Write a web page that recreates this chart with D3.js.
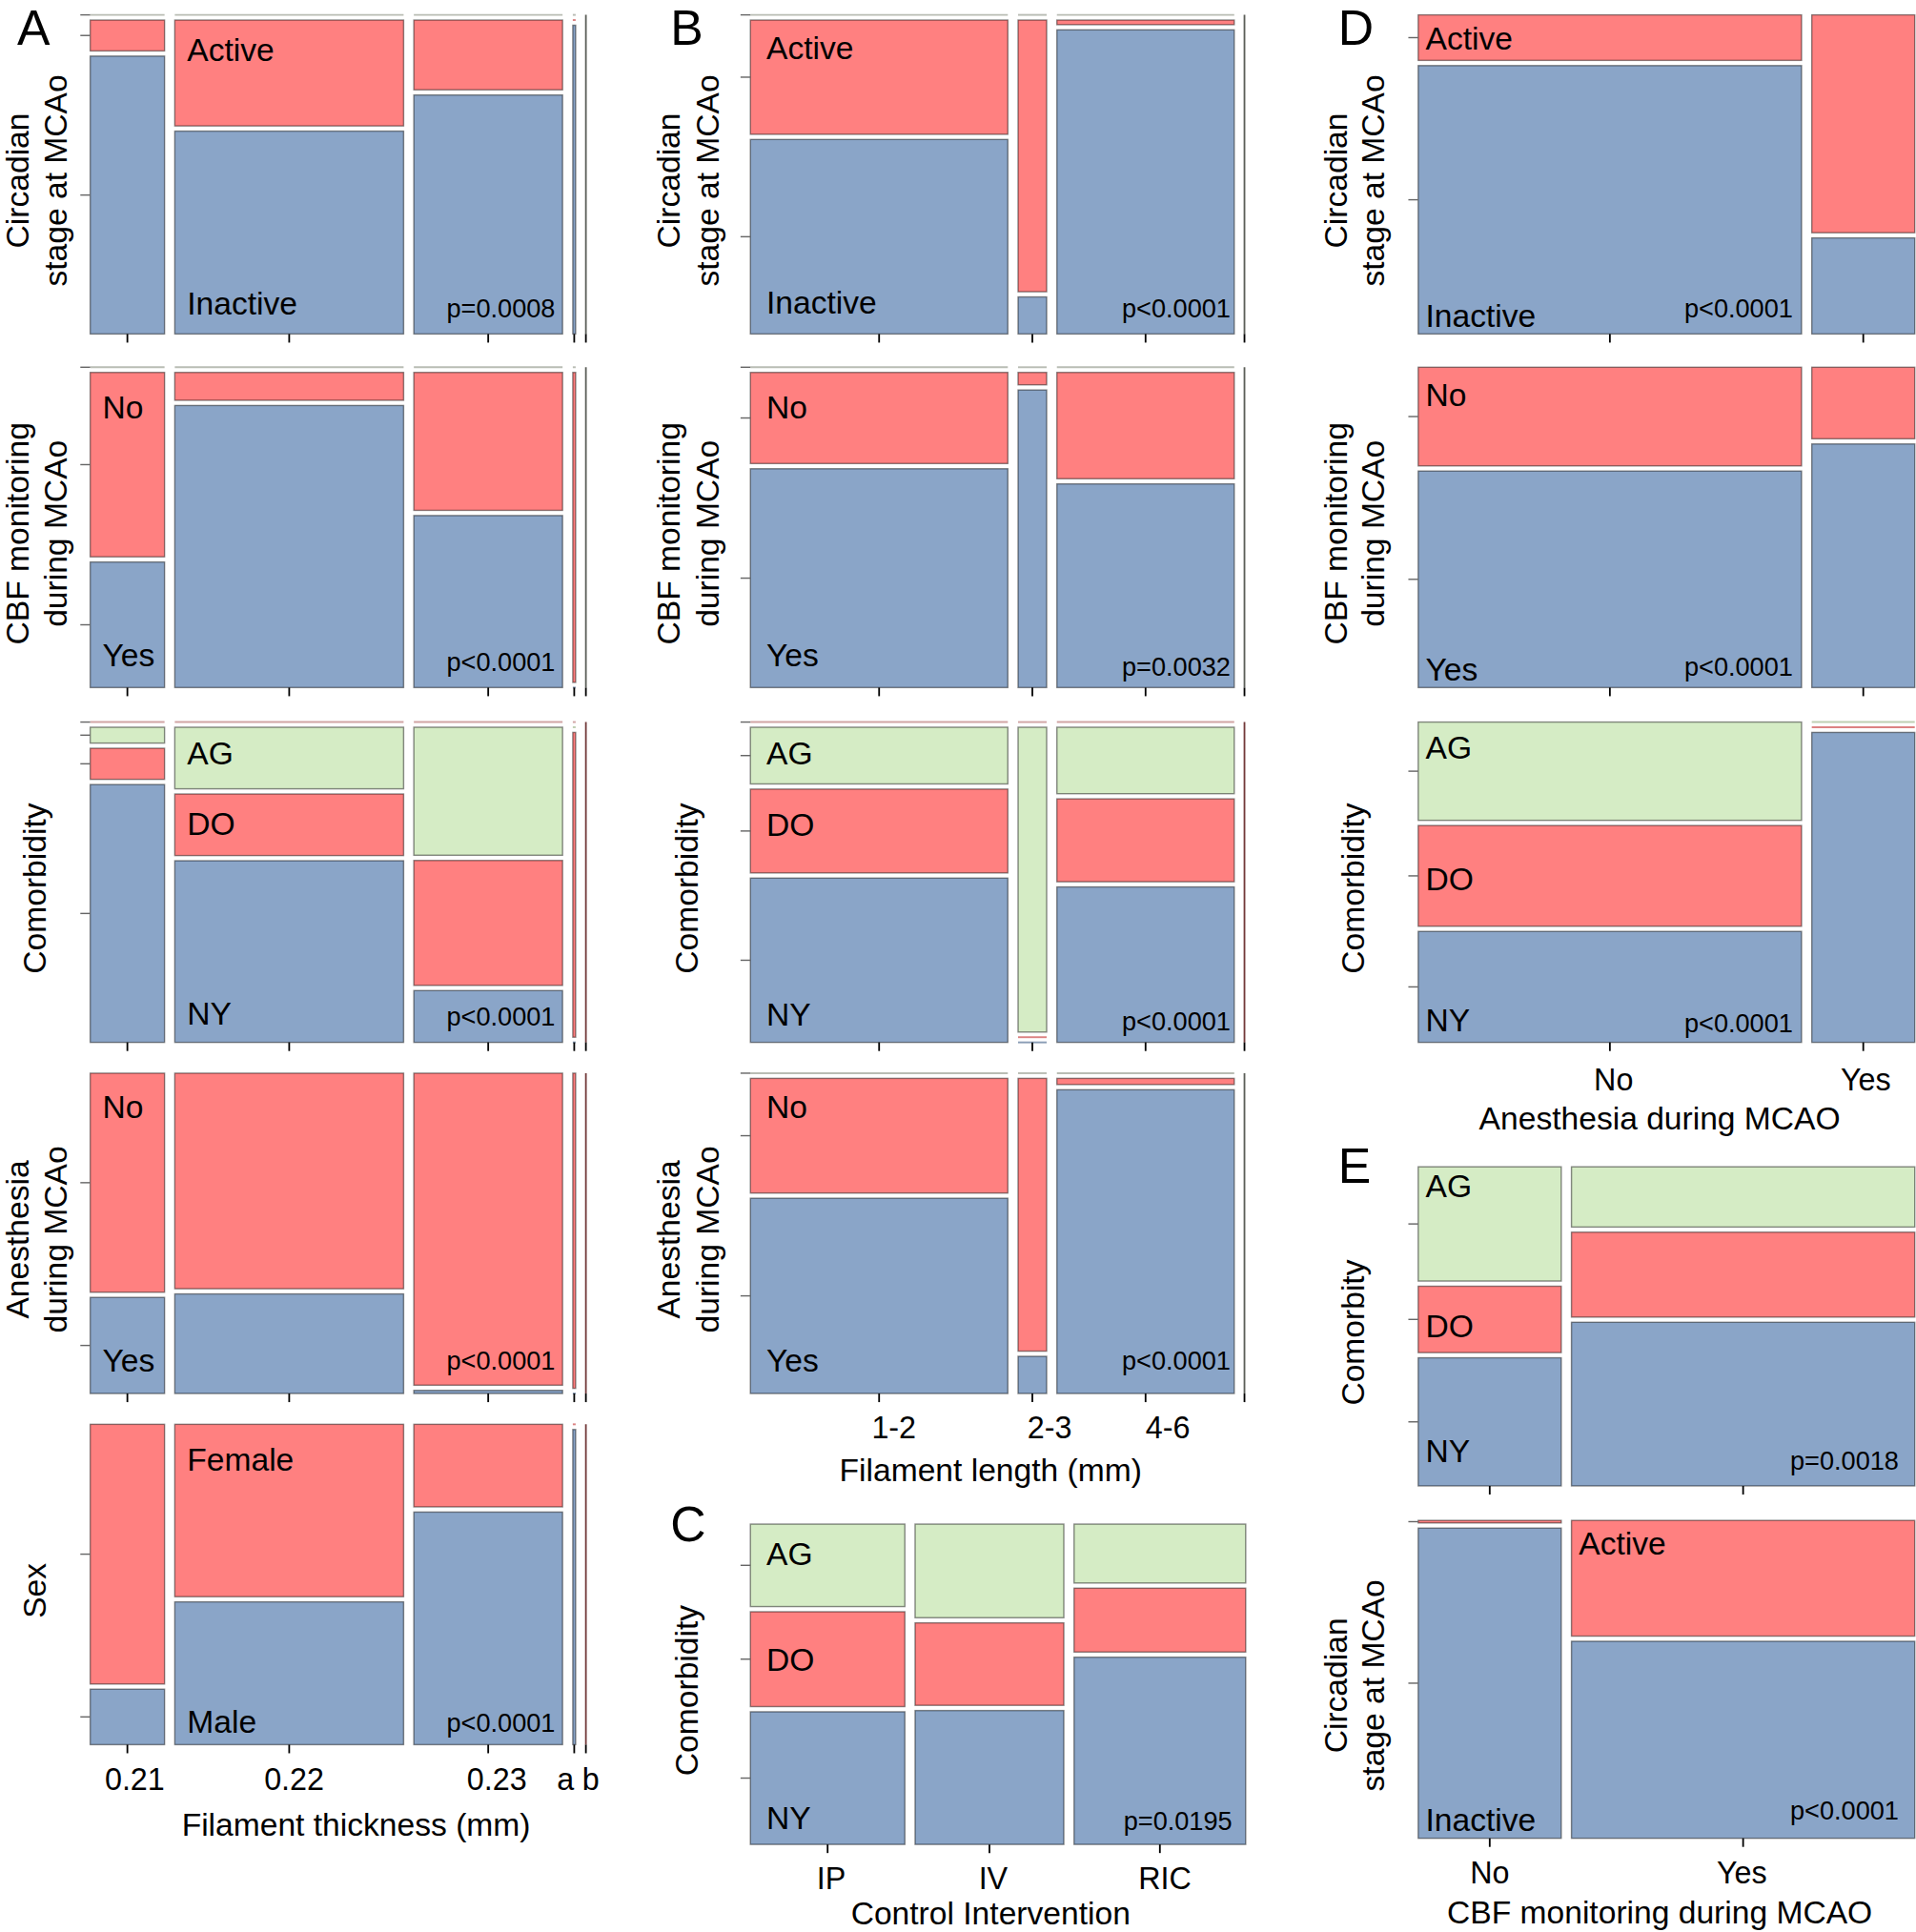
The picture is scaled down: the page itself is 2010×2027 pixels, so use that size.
<!DOCTYPE html>
<html>
<head>
<meta charset="utf-8">
<script src="https://cdn.jsdelivr.net/npm/d3@7"></script>
<style>
body { margin: 0; background: #fff; }
text { font-family: "Liberation Sans", Arial, sans-serif; fill: #000; }
</style>
</head>
<body>
<div id="chart"></div>
<script>
// x categories
const thickness = ["0.21", "0.22", "0.23", "a", "b"];
const lengthCat = ["1-2", "2-3", "4-6", ""];
const control = ["IP", "IV", "RIC"];
const noYes = ["No", "Yes"];

// animals per x category (column widths)
const thicknessN = [26, 80, 52, 1, 0];
const lengthN = [90, 10, 62, 0];
const controlN = [54, 52, 60];
const anesthesiaN = [134, 36];
const cbfN = [50, 120];

// level sets, top to bottom ("na" = empty level drawn as a line)
const circLvNA = ["na", "Active", "Inactive"];
const cbfLvNA = ["na", "No", "Yes"];
const comorbLvNA = ["naC", "AG", "DO", "NY"];
const circLv = ["Active", "Inactive"];
const yesNoLv = ["No", "Yes"];
const comorbLv = ["AG", "DO", "NY"];
const sexLv = ["Female", "Male"];

// % of each column in each level
const circByThickness = [[0, 10, 90], [0, 34.3, 65.7], [0, 22.6, 77.4], [0, 0, 100], [100, 0, 0]];
const cbfByThickness = [[0, 59.5, 40.5], [0, 9, 91], [0, 44.5, 55.5], [0, 100, 0], [100, 0, 0]];
const comorbByThickness = [[0, 5.2, 10.2, 84.6], [0, 20.2, 20.2, 59.6], [0, 42, 41, 17], [0, 0, 100, 0], [0, 0, 100, 0]];
const anesByThickness = [[69.5, 30.5], [68.4, 31.6], [99, 1], [100, 0], [100, 0]];
const sexByThickness = [[82.4, 17.6], [54.7, 45.3], [26.2, 73.8], [0, 100], [100, 0]];

const circByLength = [[0, 37, 63], [0, 88, 12], [0, 1.5, 98.5], [100, 0, 0]];
const cbfByLength = [[0, 29.4, 70.6], [0, 4, 96], [0, 34.3, 65.7], [100, 0, 0]];
const comorbByLength = [[0, 18.6, 27.5, 53.9], [0, 100, 0, 0], [0, 21.8, 27.2, 51], [0, 0, 100, 0]];
const anesByLength = [[0, 37, 63], [0, 88, 12], [0, 2, 98], [100, 0, 0]];

const comorbByControl = [[26.6, 30.6, 42.8], [30.2, 26.6, 43.2], [19, 20.6, 60.4]];

const circByAnes = [[14.5, 85.5], [69.4, 30.6]];
const cbfByAnes = [[31.3, 68.7], [22.7, 77.3]];
const comorbByAnes = [[31.7, 32.5, 35.8], [0, 0, 100]];

const comorbByCbf = [[37, 21.5, 41.5], [19.5, 27.5, 53]];
const circByCbf = [[0.8, 99.2], [37, 63]];

const pValues = ["p=0.0008", "p<0.0001", "p<0.0001", "p<0.0001", "p<0.0001",
                 "p<0.0001", "p=0.0032", "p<0.0001", "p<0.0001",
                 "p=0.0195",
                 "p<0.0001", "p<0.0001", "p<0.0001",
                 "p=0.0018", "p<0.0001"];

// ---- styling / layout ----
const red = "#ff8080", blue = "#8aa5c8", green = "#d5ecc5";
const levelColor = {
  na: "#cdd3c6", naC: "#f0b0b0",
  Active: red, Inactive: blue, No: red, Yes: blue,
  AG: green, DO: red, NY: blue, Female: red, Male: blue
};
const colGap = 8.3, lvGap = 4.2;

const panels = {
  A: {x0: 73.2, x1: 475.5, labX: 10, pIn: 6, titleX: [14, 45, 28], letter: [14, 36],
      cats: thickness, tickDx: [6, 4, 7, -7, 4], tickY: 1453,
      axisTitle: "Filament thickness (mm)", axisX: 289, axisY: 1490},
  B: {x0: 609, x1: 1010, labX: 13, pIn: 3, titleX: [542, 574, 557], letter: [544, 36],
      cats: lengthCat, tickDx: [12, 14, 18, 0], tickY: 1167,
      axisTitle: "Filament length (mm)", axisX: 804, axisY: 1202},
  C: {x0: 609, x1: 1011, labX: 13, pIn: 11, titleX: [542, 574, 557], letter: [544, 1251],
      cats: control, tickDx: [3, 3, 4], tickY: 1533,
      axisTitle: "Control Intervention", axisX: 804, axisY: 1562},
  D: {x0: 1151, x1: 1554, labX: 6, pIn: 7, titleX: [1084, 1114, 1098], letter: [1086, 36],
      cats: noYes, tickDx: [3, 2], tickY: 885,
      axisTitle: "Anesthesia during MCAO", axisX: 1347, axisY: 917},
  E: {x0: 1151, x1: 1554, labX: 6, pIn: 13, titleX: [1084, 1114, 1098], letter: [1086, 960],
      cats: noYes, tickDx: [0, -1], tickY: 1529,
      axisTitle: "CBF monitoring during MCAO", axisX: 1347, axisY: 1561}
};

const bandsA = [[12, 271], [298, 558], [586, 846], [871, 1131], [1156, 1416]];

const rows = [
  {pn: "A", y: bandsA[0], n: thicknessN, lv: circLvNA, sh: circByThickness, lab: [null, [1, 24], [1, -25]], pc: 2, title: ["Circadian", "stage at MCAo"]},
  {pn: "A", y: bandsA[1], n: thicknessN, lv: cbfLvNA, sh: cbfByThickness, lab: [null, [0, 28], [0, -27]], pc: 2, title: ["CBF monitoring", "during MCAo"]},
  {pn: "A", y: bandsA[2], n: thicknessN, lv: comorbLvNA, sh: comorbByThickness, lab: [null, [1, 21], [1, 24], [1, -24]], pc: 2, title: ["Comorbidity"]},
  {pn: "A", y: bandsA[3], n: thicknessN, lv: yesNoLv, sh: anesByThickness, lab: [[0, 27], [0, -27]], pc: 2, pDy: -27, title: ["Anesthesia", "during MCAo"]},
  {pn: "A", y: bandsA[4], n: thicknessN, lv: sexLv, sh: sexByThickness, lab: [[1, 28], [1, -19]], pc: 2, pDy: -18, title: ["Sex"], axis: true},
  {pn: "B", y: bandsA[0], n: lengthN, lv: circLvNA, sh: circByLength, lab: [null, [0, 22], [0, -26]], pc: 2, title: ["Circadian", "stage at MCAo"]},
  {pn: "B", y: bandsA[1], n: lengthN, lv: cbfLvNA, sh: cbfByLength, lab: [null, [0, 28], [0, -27]], pc: 2, pDy: -17, title: ["CBF monitoring", "during MCAo"]},
  {pn: "B", y: bandsA[2], n: lengthN, lv: comorbLvNA, sh: comorbByLength, lab: [null, [0, 21], [0, 29], [0, -23]], pc: 2, pDy: -17, title: ["Comorbidity"]},
  {pn: "B", y: bandsA[3], n: lengthN, lv: cbfLvNA, sh: anesByLength, lab: [null, [0, 23], [0, -27]], pc: 2, pDy: -27, title: ["Anesthesia", "during MCAo"], axis: true},
  {pn: "C", y: [1237, 1497], n: controlN, lv: comorbLv, sh: comorbByControl, lab: [[0, 24], [0, 39], [0, -22]], pc: 2, pDy: -19, title: ["Comorbidity"], axis: true},
  {pn: "D", y: bandsA[0], n: anesthesiaN, lv: circLv, sh: circByAnes, lab: [[0, 19], [0, -15]], pc: 0, title: ["Circadian", "stage at MCAo"]},
  {pn: "D", y: bandsA[1], n: anesthesiaN, lv: yesNoLv, sh: cbfByAnes, lab: [[0, 22], [0, -15]], pc: 0, pDy: -17, title: ["CBF monitoring", "during MCAo"]},
  {pn: "D", y: bandsA[2], n: anesthesiaN, lv: comorbLv, sh: comorbByAnes, lab: [[0, 20], [0, 43], [0, -18]], pc: 0, pDy: -16, title: ["Comorbidity"], axis: true},
  {pn: "E", y: [947, 1206], n: cbfN, lv: comorbLv, sh: comorbByCbf, lab: [[0, 15], [0, 32], [0, -29]], pc: 1, title: ["Comorbity"]},
  {pn: "E", y: [1234, 1492], n: cbfN, lv: circLv, sh: circByCbf, lab: [[1, 18], [0, -15]], pc: 1, pDy: -23, title: ["Circadian", "stage at MCAo"], axis: true}
];

const svg = d3.select("#chart").append("svg")
  .attr("width", 2010)
  .attr("height", 2027)
  .attr("viewBox", "0 0 1555 1568");

function labelName(l) { return l.startsWith("na") ? "" : l; }

rows.forEach(function (r, ri) {
  const P = panels[r.pn];
  const y0 = r.y[0], y1 = r.y[1];
  const g = svg.append("g");

  // column scale
  const x = d3.scaleLinear().domain([0, d3.sum(r.n)])
    .range([0, (P.x1 - P.x0) - colGap * (r.n.length - 1)]);
  const cols = [];
  let cx = P.x0;
  r.n.forEach(function (c) { const w = x(c); cols.push({x: cx, w: w}); cx += w + colGap; });

  // level scale
  const y = d3.scaleLinear().domain([0, 100])
    .range([0, (y1 - y0) - lvGap * (r.lv.length - 1)]);

  const segs = [];
  cols.forEach(function (col, i) {
    let cy = y0;
    r.sh[i].forEach(function (s, j) {
      const h = y(s);
      segs.push({c: i, l: j, x: col.x, w: col.w, y: cy, h: h, s: s});
      cy += h + lvGap;
    });
  });

  // boxes
  g.selectAll("rect.cell")
    .data(segs.filter(d => d.s > 0 && d.w > 0))
    .enter().append("rect")
    .attr("x", d => d.x).attr("y", d => d.y)
    .attr("width", d => d.w).attr("height", d => d.h)
    .attr("fill", d => levelColor[r.lv[d.l]])
    .attr("stroke", "#000").attr("stroke-opacity", 0.45).attr("stroke-width", 1.1);

  // empty cells -> horizontal lines
  g.selectAll("line.zero")
    .data(segs.filter(d => d.s === 0 && d.w > 0))
    .enter().append("line")
    .attr("x1", d => d.x).attr("x2", d => d.x + d.w)
    .attr("y1", d => d.y).attr("y2", d => d.y)
    .attr("stroke", d => d3.interpolateRgb(levelColor[r.lv[d.l]], "#8a8a8a")(0.3))
    .attr("stroke-width", 1.5);

  // empty columns -> vertical line
  cols.forEach(function (col, i) {
    if (col.w > 0) return;
    const j = d3.maxIndex(r.sh[i]);
    g.append("line")
      .attr("x1", col.x).attr("x2", col.x)
      .attr("y1", y0).attr("y2", y1)
      .attr("stroke", d3.interpolateRgb(levelColor[r.lv[j]], "#000")(0.55))
      .attr("stroke-width", 1.4);
  });

  // y ticks at first column segments
  g.selectAll("line.yt")
    .data(segs.filter(d => d.c === 0))
    .enter().append("line")
    .attr("x1", P.x0 - 8).attr("x2", P.x0)
    .attr("y1", d => d.y + d.h / 2).attr("y2", d => d.y + d.h / 2)
    .attr("stroke", "#666").attr("stroke-width", 1.1);

  // x ticks
  g.selectAll("line.xt")
    .data(cols)
    .enter().append("line")
    .attr("x1", d => d.x + d.w / 2).attr("x2", d => d.x + d.w / 2)
    .attr("y1", y1).attr("y2", y1 + 7)
    .attr("stroke", "#000").attr("stroke-width", 1.4);

  // level labels
  r.lab.forEach(function (lb, j) {
    if (!lb) return;
    const s = segs.find(d => d.c === lb[0] && d.l === j);
    const cyy = lb[1] >= 0 ? s.y + lb[1] : s.y + s.h + lb[1];
    g.append("text")
      .attr("x", s.x + P.labX).attr("y", cyy).attr("dy", "0.36em")
      .attr("font-size", 26)
      .text(labelName(r.lv[j]));
  });

  // p value
  const pc = cols[r.pc];
  g.append("text")
    .attr("x", pc.x + pc.w - P.pIn)
    .attr("y", y1 + (r.pDy || -21)).attr("dy", "0.36em")
    .attr("text-anchor", "end").attr("font-size", 21)
    .text(pValues[ri]);

  // y title
  const ym = (y0 + y1) / 2 + 5;
  const tx = r.title.length === 2 ? [P.titleX[0], P.titleX[1]] : [P.titleX[2]];
  r.title.forEach(function (t, k) {
    g.append("text")
      .attr("transform", "translate(" + tx[k] + "," + ym + ") rotate(-90)")
      .attr("text-anchor", "middle").attr("dy", "0.36em")
      .attr("font-size", 26)
      .text(t);
  });

  // x axis labels under last row of a panel
  if (r.axis) {
    g.selectAll("text.xl")
      .data(cols)
      .enter().append("text")
      .attr("x", (d, i) => d.x + d.w / 2 + P.tickDx[i])
      .attr("y", P.tickY)
      .attr("text-anchor", "middle").attr("font-size", 25)
      .text((d, i) => P.cats[i]);
    g.append("text")
      .attr("x", P.axisX).attr("y", P.axisY)
      .attr("text-anchor", "middle").attr("font-size", 26)
      .text(P.axisTitle);
  }
});

// panel letters
Object.keys(panels).forEach(function (k) {
  svg.append("text")
    .attr("x", panels[k].letter[0]).attr("y", panels[k].letter[1])
    .attr("font-size", 40)
    .text(k);
});
</script>
</body>
</html>
